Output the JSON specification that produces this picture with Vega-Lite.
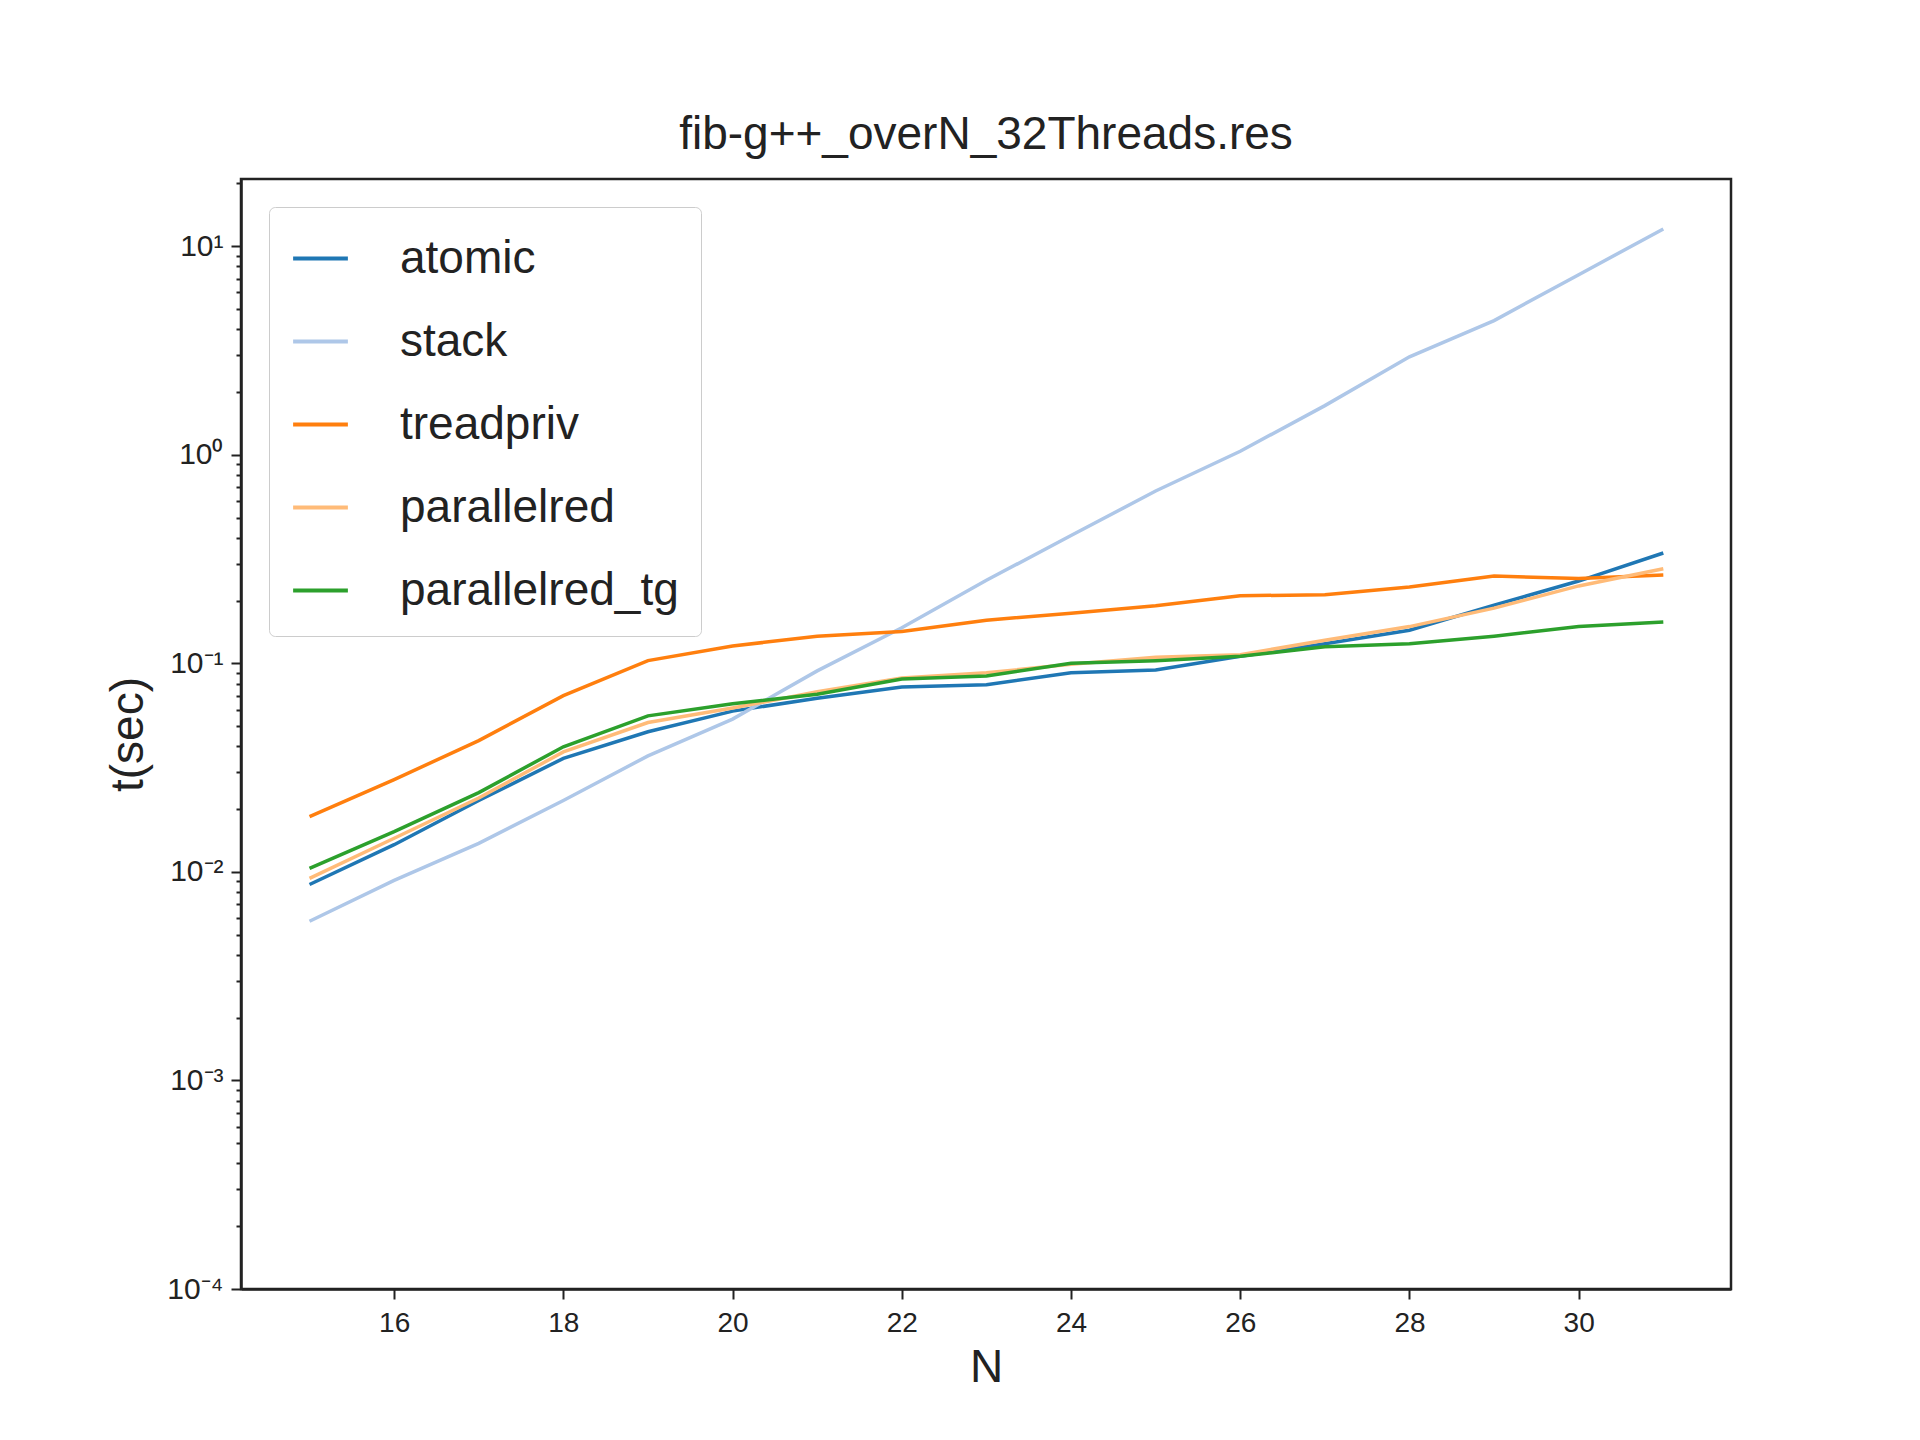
{
  "$schema": "https://vega.github.io/schema/vega-lite/v6.json",
  "width": 1490,
  "height": 1110,
  "padding": {"left": 105, "top": 112, "right": 170, "bottom": 20},
  "background": "white",
  "title": {"text": "fib-g++_overN_32Threads.res", "fontSize": 46, "font": "Liberation Sans", "fontWeight": "normal", "color": "#222", "offset": 20},
  "config": {
    "view": {"stroke": "#222", "strokeWidth": 2.5},
    "axis": {"grid": false, "domainColor": "#222", "tickColor": "#222", "labelColor": "#222", "titleColor": "#222", "labelFont": "Liberation Sans", "titleFont": "Liberation Sans", "titleFontWeight": "normal", "domainWidth": 2.5, "tickWidth": 2}
  },
  "data": {"values": [
    {"N":15,"s":"atomic","t":0.0087},{"N":16,"s":"atomic","t":0.0135},{"N":17,"s":"atomic","t":0.022},{"N":18,"s":"atomic","t":0.035},{"N":19,"s":"atomic","t":0.047},{"N":20,"s":"atomic","t":0.059},{"N":21,"s":"atomic","t":0.068},{"N":22,"s":"atomic","t":0.077},{"N":23,"s":"atomic","t":0.079},{"N":24,"s":"atomic","t":0.09},{"N":25,"s":"atomic","t":0.093},{"N":26,"s":"atomic","t":0.108},{"N":27,"s":"atomic","t":0.124},{"N":28,"s":"atomic","t":0.144},{"N":29,"s":"atomic","t":0.19},{"N":30,"s":"atomic","t":0.248},{"N":31,"s":"atomic","t":0.338},
    {"N":15,"s":"stack","t":0.0058},{"N":16,"s":"stack","t":0.0091},{"N":17,"s":"stack","t":0.0137},{"N":18,"s":"stack","t":0.022},{"N":19,"s":"stack","t":0.036},{"N":20,"s":"stack","t":0.054},{"N":21,"s":"stack","t":0.092},{"N":22,"s":"stack","t":0.148},{"N":23,"s":"stack","t":0.25},{"N":24,"s":"stack","t":0.41},{"N":25,"s":"stack","t":0.67},{"N":26,"s":"stack","t":1.04},{"N":27,"s":"stack","t":1.72},{"N":28,"s":"stack","t":2.95},{"N":29,"s":"stack","t":4.4},{"N":30,"s":"stack","t":7.3},{"N":31,"s":"stack","t":12.1},
    {"N":15,"s":"treadpriv","t":0.0184},{"N":16,"s":"treadpriv","t":0.0277},{"N":17,"s":"treadpriv","t":0.0426},{"N":18,"s":"treadpriv","t":0.07},{"N":19,"s":"treadpriv","t":0.103},{"N":20,"s":"treadpriv","t":0.121},{"N":21,"s":"treadpriv","t":0.135},{"N":22,"s":"treadpriv","t":0.142},{"N":23,"s":"treadpriv","t":0.161},{"N":24,"s":"treadpriv","t":0.174},{"N":25,"s":"treadpriv","t":0.189},{"N":26,"s":"treadpriv","t":0.211},{"N":27,"s":"treadpriv","t":0.213},{"N":28,"s":"treadpriv","t":0.232},{"N":29,"s":"treadpriv","t":0.262},{"N":30,"s":"treadpriv","t":0.255},{"N":31,"s":"treadpriv","t":0.265},
    {"N":15,"s":"parallelred","t":0.0093},{"N":16,"s":"parallelred","t":0.0145},{"N":17,"s":"parallelred","t":0.0226},{"N":18,"s":"parallelred","t":0.0376},{"N":19,"s":"parallelred","t":0.052},{"N":20,"s":"parallelred","t":0.061},{"N":21,"s":"parallelred","t":0.073},{"N":22,"s":"parallelred","t":0.085},{"N":23,"s":"parallelred","t":0.09},{"N":24,"s":"parallelred","t":0.099},{"N":25,"s":"parallelred","t":0.107},{"N":26,"s":"parallelred","t":0.11},{"N":27,"s":"parallelred","t":0.129},{"N":28,"s":"parallelred","t":0.15},{"N":29,"s":"parallelred","t":0.184},{"N":30,"s":"parallelred","t":0.235},{"N":31,"s":"parallelred","t":0.284},
    {"N":15,"s":"parallelred_tg","t":0.0104},{"N":16,"s":"parallelred_tg","t":0.0156},{"N":17,"s":"parallelred_tg","t":0.024},{"N":18,"s":"parallelred_tg","t":0.0398},{"N":19,"s":"parallelred_tg","t":0.056},{"N":20,"s":"parallelred_tg","t":0.064},{"N":21,"s":"parallelred_tg","t":0.071},{"N":22,"s":"parallelred_tg","t":0.084},{"N":23,"s":"parallelred_tg","t":0.087},{"N":24,"s":"parallelred_tg","t":0.1},{"N":25,"s":"parallelred_tg","t":0.103},{"N":26,"s":"parallelred_tg","t":0.108},{"N":27,"s":"parallelred_tg","t":0.12},{"N":28,"s":"parallelred_tg","t":0.124},{"N":29,"s":"parallelred_tg","t":0.135},{"N":30,"s":"parallelred_tg","t":0.15},{"N":31,"s":"parallelred_tg","t":0.158}
  ]},
  "mark": {"type": "line", "strokeWidth": 3.5, "clip": true},
  "encoding": {
    "x": {"field": "N", "type": "quantitative",
      "scale": {"domain": [14.19, 31.8], "nice": false, "zero": false},
      "axis": {"values": [16,18,20,22,24,26,28,30], "labelFontSize": 28, "titleFontSize": 46, "tickSize": 10, "labelPadding": 10, "titlePadding": 8}},
    "y": {"field": "t", "type": "quantitative", "title": "t(sec)",
      "scale": {"type": "log", "domain": [0.0001, 21], "nice": false},
      "axis": {
        "values": [0.0001,0.0002,0.0003,0.0004,0.0005,0.0006,0.0007,0.0008,0.0009,0.001,0.002,0.003,0.004,0.005,0.006,0.007,0.008,0.009,0.01,0.02,0.03,0.04,0.05,0.06,0.07,0.08,0.09,0.1,0.2,0.3,0.4,0.5,0.6,0.7,0.8,0.9,1,2,3,4,5,6,7,8,9,10,20],
        "labelExpr": "abs(log(datum.value)/LN10 - round(log(datum.value)/LN10)) < 0.001 ? '10' + ({'-4':'⁻⁴','-3':'⁻³','-2':'⁻²','-1':'⁻¹','0':'⁰','1':'¹'})[''+round(log(datum.value)/LN10)] : ''",
        "tickSize": {"condition": {"test": "abs(log(datum.value)/LN10 - round(log(datum.value)/LN10)) < 0.001", "value": 10}, "value": 5},
        "labelFontSize": 30, "titleFontSize": 46, "titlePadding": 14, "labelPadding": 8}},
    "color": {"field": "s", "type": "nominal", "title": null,
      "scale": {"domain": ["atomic","stack","treadpriv","parallelred","parallelred_tg"], "range": ["#1f77b4","#aec7e8","#ff7f0e","#ffbb78","#2ca02c"]},
      "legend": {"orient": "top-left", "offset": 28, "symbolType": "stroke", "symbolSize": 3000, "symbolStrokeWidth": 4, "labelFontSize": 46, "labelFont": "Liberation Sans", "labelColor": "#222", "labelLimit": 600, "rowPadding": 30, "labelOffset": 50, "padding": 22, "strokeColor": "#ccc", "fillColor": "white", "cornerRadius": 6}}
  }
}
